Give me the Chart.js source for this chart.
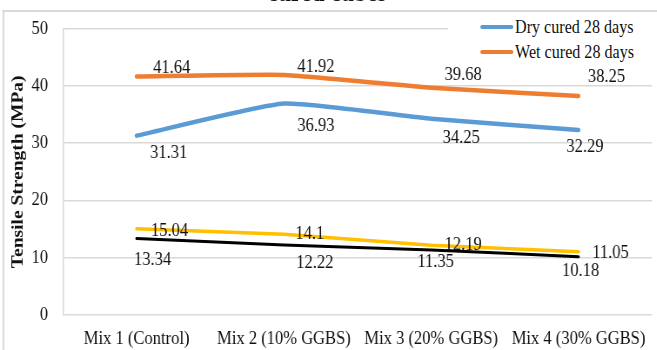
<!DOCTYPE html>
<html><head><meta charset="utf-8">
<script src="https://cdn.jsdelivr.net/npm/chart.js@4"></script>
<style>
html,body{margin:0;padding:0;background:#fff;}
#page{position:relative;width:657px;height:350px;overflow:hidden;background:#fff;}
#wrap{position:absolute;left:0;top:0;width:755px;height:350px;transform:scaleX(0.87);transform-origin:0 0;}
#frame{position:absolute;left:3.4px;top:10px;width:900px;height:500px;border-top:2px solid #d9d9d9;border-left:2px solid #d9d9d9;}
#c{position:absolute;left:0;top:0;}
#title{position:absolute;left:176px;width:400px;top:-20.8px;text-align:center;font:bold 27px/27px "Liberation Serif";color:#111;white-space:nowrap;}
#legend{position:absolute;left:515px;top:13px;width:245px;height:51px;background:#fff;}
.sw{position:absolute;left:36.7px;width:38px;height:4.5px;border-radius:2px;}
.lt{position:absolute;left:77px;font:18.5px/20px "Liberation Serif";color:#111;white-space:nowrap;}
</style></head>
<body>
<div id="page"><div id="wrap">
<div id="frame"></div>
<canvas id="c" width="755" height="350"></canvas>
<div id="title">cured cubes</div>
<div id="legend">
  <div class="sw" style="top:11.75px;background:#5B9BD5"></div><div class="lt" style="top:4px">Dry cured 28 days</div>
  <div class="sw" style="top:36.75px;background:#ED7D31"></div><div class="lt" style="top:29px">Wet cured 28 days</div>
</div>
</div></div>
<script>
const categories = ['Mix 1 (Control)', 'Mix 2 (10% GGBS)', 'Mix 3 (20% GGBS)', 'Mix 4 (30% GGBS)'];
const dryCured28 = [31.31, 36.93, 34.25, 32.29];
const wetCured28 = [41.64, 41.92, 39.68, 38.25];
const series3 = [15.04, 14.1, 12.19, 11.05];
const series4 = [13.34, 12.22, 11.35, 10.18];
const yTicks = [0, 10, 20, 30, 40, 50];

// label placement nudges (page px) — styling, separate from data
const labelNudge = [
  [[32,17],[32,23],[30,19],[6.5,17]],
  [[35,-8.5],[32,-8],[32,-13],[28,-19]],
  [[33,2],[26,0],[32,0],[32,1]],
  [[16,21],[31,18],[4.5,12.5],[2,14]]
];
const S = 0.87;

const labelPlugin = {
  id: 'valueLabels',
  afterDatasetsDraw(chart) {
    const ctx = chart.ctx;
    ctx.save();
    ctx.font = '19px "Liberation Serif"';
    ctx.fillStyle = '#111';
    ctx.textAlign = 'center';
    ctx.textBaseline = 'middle';
    chart.data.datasets.forEach((ds, i) => {
      const meta = chart.getDatasetMeta(i);
      meta.data.forEach((pt, j) => {
        const n = labelNudge[i][j];
        ctx.fillText(String(ds.data[j]), pt.x + n[0] / S, pt.y + n[1]);
      });
    });
    ctx.restore();
  }
};

const font = {family: 'Liberation Serif', size: 19};
new Chart(document.getElementById('c'), {
  type: 'line',
  data: {
    labels: categories,
    datasets: [
      {label: 'Dry cured 28 days', data: dryCured28, borderColor: '#5B9BD5', borderWidth: 4.5, pointRadius: 0, tension: 0.15, borderCapStyle: 'round'},
      {label: 'Wet cured 28 days', data: wetCured28, borderColor: '#ED7D31', borderWidth: 4.5, pointRadius: 0, tension: 0.15, borderCapStyle: 'round'},
      {label: 'Series 3', data: series3, borderColor: '#FFC000', borderWidth: 3.5, pointRadius: 0, tension: 0.15, borderCapStyle: 'round'},
      {label: 'Series 4', data: series4, borderColor: '#000000', borderWidth: 3, pointRadius: 0, tension: 0.15, borderCapStyle: 'round'}
    ]
  },
  options: {
    responsive: false,
    animation: false,
    devicePixelRatio: 1,
    layout: {padding: {left: 0, right: 2, top: 25, bottom: 0}},
    plugins: {legend: {display: false}, title: {display: false}, tooltip: {enabled: false}},
    scales: {
      x: {
        offset: true,
        grid: {display: false, drawTicks: false},
        border: {display: false},
        ticks: {font: font, color: '#111', padding: 13, maxRotation: 0, autoSkip: false},
        afterFit(s) { s.height = 35; }
      },
      y: {
        min: 0, max: 50,
        afterBuildTicks(s) { s.ticks = yTicks.map(v => ({value: v})); },
        ticks: {font: font, color: '#111', padding: 17.2},
        grid: {color: '#d9d9d9', lineWidth: 1.5, drawTicks: false},
        border: {display: true, color: '#d9d9d9', width: 1.5},
        title: {display: true, text: 'Tensile Strength (MPa)', font: {family: 'Liberation Serif', size: 19.5, weight: 'bold'}, color: '#111', padding: {top: 9, bottom: 0}},
        afterFit(s) { s.width = 72.4; }
      }
    }
  },
  plugins: [labelPlugin]
});
</script>
</body></html>
